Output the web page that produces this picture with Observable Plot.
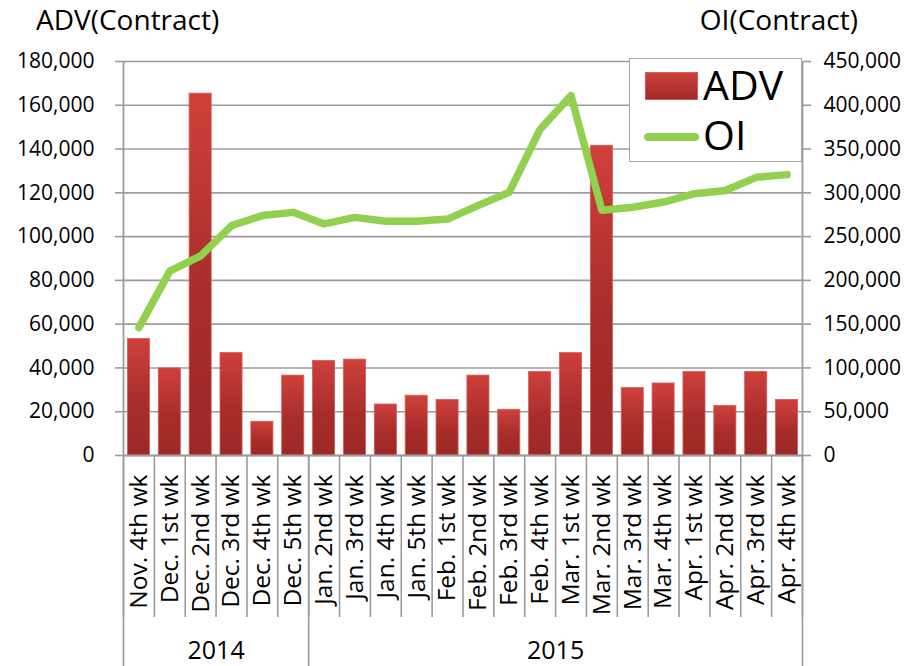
<!DOCTYPE html>
<html><head><meta charset="utf-8">
<script src="https://cdn.jsdelivr.net/npm/d3@7"></script>
<script src="https://cdn.jsdelivr.net/npm/@observablehq/plot@0.6"></script>
<style>
body{margin:0;background:#fff;font-family:"Open Sans",sans-serif;}
#wrap{position:relative;width:904px;height:666px;overflow:hidden;}
#wrap svg{position:absolute;left:0;top:0;}
.title{position:absolute;font-size:28px;line-height:1;color:#000;white-space:nowrap;}
#legend{position:absolute;left:629px;top:58px;width:171px;height:102px;border:1.5px solid #a6a6a6;background:#fff;}
#legend .sw{position:absolute;}
#legend .lt{position:absolute;font-size:41px;line-height:1;color:#000;}
</style></head><body>
<svg width="0" height="0" style="position:absolute"><defs>
<linearGradient id="barGrad" x1="0" y1="0" x2="0" y2="1">
<stop offset="0" stop-color="#cf403c"/><stop offset="0.55" stop-color="#a82d2a"/><stop offset="1" stop-color="#9c2926"/>
</linearGradient></defs></svg>
<div id="wrap">
  <div class="title" style="left:36px;top:5px;">ADV(Contract)</div>
  <div class="title" style="right:46px;top:5px;">OI(Contract)</div>
</div>
<script>
const cats = ["Nov. 4th wk","Dec. 1st wk","Dec. 2nd wk","Dec. 3rd wk","Dec. 4th wk","Dec. 5th wk",
  "Jan. 2nd wk","Jan. 3rd wk","Jan. 4th wk","Jan. 5th wk","Feb. 1st wk","Feb. 2nd wk","Feb. 3rd wk","Feb. 4th wk",
  "Mar. 1st wk","Mar. 2nd wk","Mar. 3rd wk","Mar. 4th wk","Apr. 1st wk","Apr. 2nd wk","Apr. 3rd wk","Apr. 4th wk"];
const adv = [53200,39800,165300,46800,15400,36500,43200,43800,23300,27300,25400,36500,20900,38200,46800,141500,30800,32900,38200,22600,38200,25400];
const oi = [146000,210600,228000,262600,274000,277700,264500,272000,267500,267500,270000,285600,300700,372700,411000,280000,283600,289500,299000,302600,317700,320800];
const years = ["2014","2015"];
const yearStart = [0,6];
const advTicks = [0,20000,40000,60000,80000,100000,120000,140000,160000,180000];
const advMax = 180000, oiMax = 450000;
const ratio = oiMax/advMax;

const data = cats.map((c,i)=>({i, cat:c, adv:adv[i], oi:oi[i]}));
const n = cats.length;
const yearEdges = [...yearStart, n];
const yearMid = years.map((y,k)=>(yearEdges[k]+yearEdges[k+1])/2);
const fmt = d3.format(",");
const grey = "#9c9c9c";

const chart = Plot.plot({
  width: 904, height: 666,
  marginTop: 61, marginBottom: 211, marginLeft: 123, marginRight: 102,
  style: {fontFamily: "Open Sans, sans-serif", color: "#000", background: "transparent"},
  x: {domain: [0, n], axis: null},
  y: {domain: [0, advMax], axis: null},
  marks: [
    Plot.gridY(advTicks, {stroke: grey, strokeOpacity: 1, strokeWidth: 1.6}),
    Plot.rectY(data, {x1: "i", x2: d => d.i + 1, y: "adv", insetLeft: 4.4, insetRight: 4.4,
      fill: "url(#barGrad)", stroke: "#d65a56", strokeWidth: 0.8}),
    Plot.ruleX([0, n], {stroke: grey, strokeWidth: 1.8}),
    Plot.ruleY([0], {stroke: grey, strokeWidth: 1.8}),
    Plot.line(data, {x: d => d.i + 0.5, y: d => d.oi / ratio, stroke: "#92d050", strokeWidth: 7.5,
      strokeLinecap: "round", strokeLinejoin: "round"}),
    Plot.axisY({anchor: "left", label: null, ticks: advTicks, tickSize: 8, tickPadding: 21, tickFormat: fmt,
      fontSize: 21, stroke: grey, strokeWidth: 1.6}),
    Plot.axisY({anchor: "right", label: null, ticks: advTicks, tickSize: 8, tickPadding: 13,
      tickFormat: d => fmt(d * ratio), fontSize: 21, stroke: grey, strokeWidth: 1.6}),
    Plot.axisX({anchor: "bottom", label: null, ticks: d3.range(n).map(i => i + 0.5), tickFormat: d => cats[Math.floor(d)],
      tickRotate: -90, tickSize: 0, tickPadding: 19, fontSize: 24.5}),
    Plot.axisX({anchor: "bottom", label: null, ticks: d3.range(n + 1), tickSize: 162, tickFormat: () => "",
      stroke: grey, strokeWidth: 1.6}),
    Plot.axisX({anchor: "bottom", label: null, ticks: yearEdges, tickSize: 215, tickFormat: () => "",
      stroke: grey, strokeWidth: 1.6}),
    Plot.axisX({anchor: "bottom", label: null, ticks: yearMid, tickSize: 0, tickPadding: 186,
      tickFormat: d => years[yearMid.indexOf(d)], fontSize: 25})
  ]
});
const wrap = document.getElementById("wrap");
wrap.prepend(chart);

const legend = document.createElement("div");
legend.id = "legend";
legend.innerHTML = `
  <div class="sw" style="left:15px;top:13px;width:53px;height:28px;background:linear-gradient(#cf403c,#a02b28);border:1px solid #d65a56;box-sizing:border-box;"></div>
  <div class="lt" style="left:73px;top:5px;">ADV</div>
  <div class="sw" style="left:14px;top:74px;width:55px;height:8px;border-radius:4px;background:#92d050;"></div>
  <div class="lt" style="left:73px;top:55px;">OI</div>`;
wrap.appendChild(legend);
</script>
</body></html>
